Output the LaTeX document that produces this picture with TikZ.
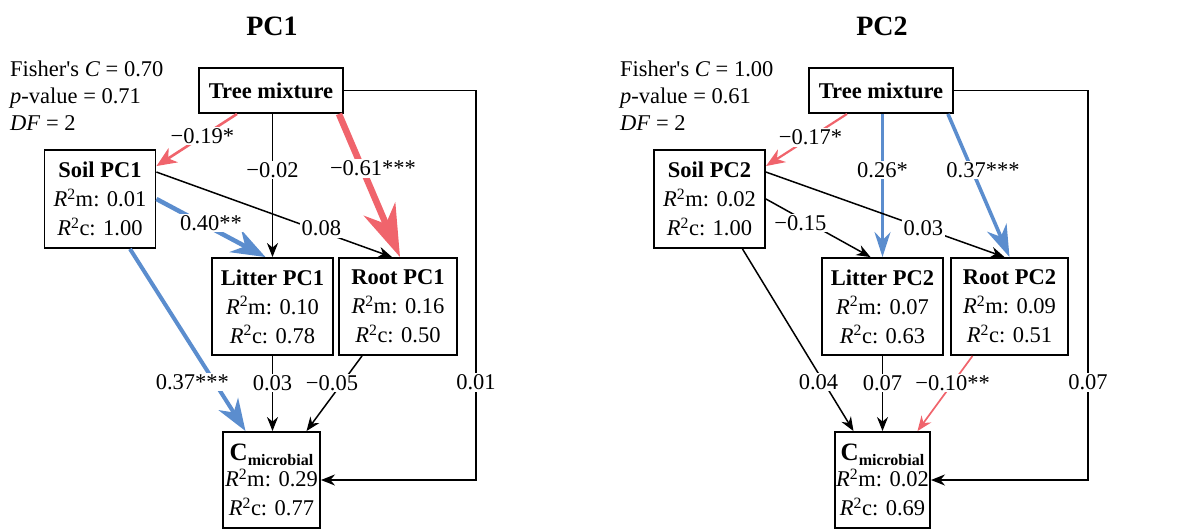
\documentclass[tikz,border=0pt]{standalone}
\usepackage{fontspec}
\setmainfont{Liberation Serif}
\usetikzlibrary{arrows.meta,calc}
\definecolor{pred}{HTML}{F0646C}
\definecolor{pblue}{HTML}{5B8DCE}
\newcommand{\fs}{\fontsize{22.5}{29}\selectfont}
\newcommand{\Rm}{\textit{R}\textsuperscript{2}m}
\newcommand{\Rc}{\textit{R}\textsuperscript{2}c}
\newcommand{\Cmic}{\textbf{\fontsize{25}{25}\selectfont C\raisebox{-5pt}{\fontsize{16}{16}\selectfont microbial}}}
\begin{document}
\begin{tikzpicture}[x=1pt,y=-1pt,
  box/.style={draw, line width=1.9pt, align=center, inner sep=0pt, font=\fs, minimum height=97pt},
  lab/.style={fill=white, inner sep=1.5pt, font=\fs},
  stat/.style={anchor=base west, inner sep=0pt, font=\fs},
  ttl/.style={font=\fontsize{28}{28}\selectfont\bfseries},
  arr/.style n args={4}{line width=#1, -{Stealth[length=#2, width=#3, inset=#4]}},
  blk/.style={arr={1.5pt}{14pt}{11pt}{4.5pt}, draw=black}
]
\useasboundingbox (0,0) rectangle (1189,530);

% ---------------- PC1 ----------------
\node[ttl] (t1) at (272,26) {PC1};
\node[stat] (f1a) at (10,76) {Fisher\textquotesingle s \textit{C} = 0.70};
\node[stat] (f1b) at (10,103) {\textit{p}-value = 0.71};
\node[stat] (f1c) at (10,130) {\textit{DF} = 2};

\node[box, minimum width=144pt, minimum height=45pt] (tree1) at (271,90.5) {\textbf{Tree mixture}};
\node[box, minimum width=111pt, minimum height=98pt] (soil1) at (100,199) {\textbf{Soil PC1}\\ \Rm: 0.01\\ \Rc: 1.00};
\node[box, minimum width=121pt] (lit1) at (272.5,306.5) {\textbf{Litter PC1}\\ \Rm: 0.10\\ \Rc: 0.78};
\node[box, minimum width=118pt] (root1) at (398,306.5) {\textbf{Root PC1}\\ \Rm: 0.16\\ \Rc: 0.50};
\node[box, minimum width=97pt, minimum height=96pt] (cmic1) at (271.5,480) {\Cmic\\[-3pt] \Rm: 0.29\\ \Rc: 0.77};

\draw[arr={2.6pt}{20pt}{17pt}{6pt}, pred]
  ($(tree1.south)+(-34,0)$) -- ($(soil1.north east)+(0,17)$) node[lab, text=black, pos=0.43] (l1a) {−0.19*};
\draw[blk] (tree1.south -| lit1.north) -- (lit1.north) node[lab, pos=0.39] (l1b) {−0.02};
\draw[arr={6.5pt}{52pt}{34pt}{16pt}, pred] ($(tree1.south east)+(-5,0)$) -- ($(root1.north)+(2,0)$)
  node[lab, pos=0.36, xshift=12pt, yshift=-3pt, text=black] (l1c) {−0.61***};
\draw[arr={4.5pt}{34pt}{25pt}{11pt}, pblue] (soil1.east) -- ($(lit1.north)+(-7,0)$)
  node[lab, pos=0.5, yshift=5pt, text=black] (l1d) {0.40**};
\draw[blk] ($(soil1.north east)+(0,23)$) -- ($(root1.north)+(-6,0)$)
  node[lab, pos=0.7, yshift=3pt] (l1e) {0.08};
\draw[arr={4pt}{32pt}{23pt}{10pt}, pblue] ($(soil1.south)+(30,0)$) -- ($(cmic1.north)+(-26,0)$)
  node[lab, pos=0.73, xshift=-22pt, text=black] (l1f) {0.37***};
\draw[blk] (lit1.south) -- (lit1.south |- cmic1.north) node[lab, pos=0.36] (l1g) {0.03};
\draw[blk] ($(root1.south)+(-36,0)$) -- ($(cmic1.north)+(35,0)$)
  node[lab, pos=0.36, xshift=-10pt] (l1h) {−0.05};
\draw[blk] (tree1.east) -- (476,90.5) -- (476,480) node[lab, pos=0.75] (l1i) {0.01} -- (cmic1.east);

% ---------------- PC2 ----------------
\node[ttl] (t2) at (882,26) {PC2};
\node[stat] (f2a) at (620,76) {Fisher\textquotesingle s \textit{C} = 1.00};
\node[stat] (f2b) at (620,103) {\textit{p}-value = 0.61};
\node[stat] (f2c) at (620,130) {\textit{DF} = 2};

\node[box, minimum width=144pt, minimum height=45pt] (tree2) at (881,90.5) {\textbf{Tree mixture}};
\node[box, minimum width=111pt, minimum height=98pt] (soil2) at (709.5,199) {\textbf{Soil PC2}\\ \Rm: 0.02\\ \Rc: 1.00};
\node[box, minimum width=121pt] (lit2) at (882.5,306.5) {\textbf{Litter PC2}\\ \Rm: 0.07\\ \Rc: 0.63};
\node[box, minimum width=117pt] (root2) at (1009.5,306.5) {\textbf{Root PC2}\\ \Rm: 0.09\\ \Rc: 0.51};
\node[box, minimum width=95pt, minimum height=96pt] (cmic2) at (882.5,480) {\Cmic\\[-3pt] \Rm: 0.02\\ \Rc: 0.69};

\draw[arr={2.2pt}{19pt}{15pt}{6pt}, pred] ($(tree2.south)+(-34,0)$) -- ($(soil2.north east)+(0,17)$)
  node[lab, pos=0.45, text=black] (l2a) {−0.17*};
\draw[arr={2.2pt}{25pt}{16pt}{8pt}, pblue] (tree2.south -| lit2.north) -- (lit2.north)
  node[lab, pos=0.39, text=black] (l2b) {0.26*};
\draw[arr={3.6pt}{32pt}{21pt}{10pt}, pblue] ($(tree2.south east)+(-6,0)$) -- (root2.north)
  node[lab, pos=0.39, xshift=11pt, text=black] (l2c) {0.37***};
\draw[blk] (soil2.east) -- ($(lit2.north)+(-12,0)$)
  node[lab, pos=0.33, yshift=-5pt] (l2d) {−0.15};
\draw[blk] ($(soil2.north east)+(0,23)$) -- ($(root2.north)+(-5,0)$)
  node[lab, pos=0.66] (l2e) {0.03};
\draw[blk] ($(soil2.south)+(33,0)$) -- ($(cmic2.north)+(-29,0)$)
  node[lab, pos=0.73, xshift=-5pt] (l2f) {0.04};
\draw[blk] (lit2.south) -- (lit2.south |- cmic2.north) node[lab, pos=0.36] (l2g) {0.07};
\draw[arr={1.7pt}{15pt}{12pt}{5pt}, pred] ($(root2.south)+(-37,0)$) -- ($(cmic2.north)+(35,0)$)
  node[lab, pos=0.36, text=black] (l2h) {−0.10**};
\draw[blk] (tree2.east) -- (1088,90.5) -- (1088,480) node[lab, pos=0.75] (l2i) {0.07} -- (cmic2.east);
\end{tikzpicture}
\end{document}
